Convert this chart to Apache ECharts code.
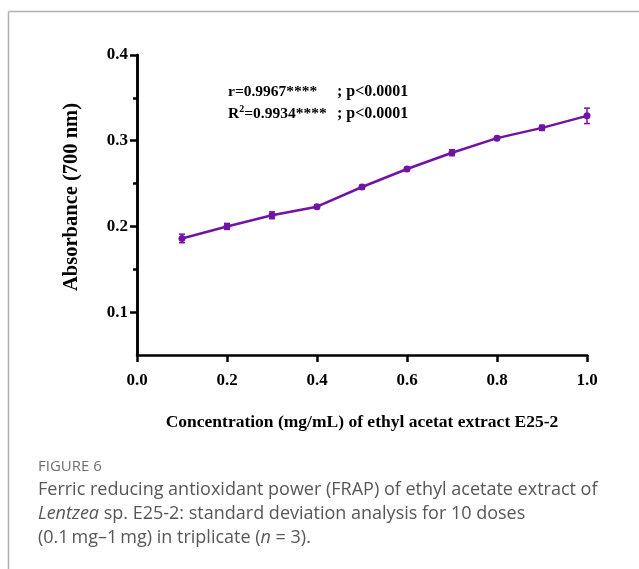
<!DOCTYPE html>
<html><head><meta charset="utf-8">
<script src="https://cdn.jsdelivr.net/npm/echarts@6/dist/echarts.min.js"></script>
<style>html,body{margin:0;padding:0;background:#fff}#c{width:639px;height:569px}</style>
</head><body><div id="c"></div>
<script>
const concentrations = [0.1,0.2,0.3,0.4,0.5,0.6,0.7,0.8,0.9,1.0];
const absorbance = [0.186,0.200,0.213,0.223,0.246,0.267,0.286,0.303,0.315,0.329];
const sdValues = [0.005,0.0035,0.004,0.002,0.002,0.002,0.0035,0.002,0.003,0.009];
const xTicks = [0,0.2,0.4,0.6,0.8,1.0];
const yMajor = [0.1,0.2,0.3,0.4];
const yMinor = [0.15,0.25,0.35];
const statLeft = ['r=0.9967****','R{sup|2}=0.9934****'];
const statRight = ['; p<0.0001','; p<0.0001'];

const purple = '#7313a3';
const serif = '"Liberation Serif","Times New Roman",serif';
const sans = '"Open Sans",sans-serif';

const chart = echarts.init(document.getElementById('c'), null, {renderer:'canvas'});
const lineData = concentrations.map((x,i)=>[x,absorbance[i]]);
const errData = concentrations.map((x,i)=>[x,absorbance[i]-sdValues[i],absorbance[i]+sdValues[i]]);
const statRich = {sup:{fontFamily:serif,fontWeight:'bold',fontSize:10,fill:'#000',padding:[0,0,9,0]}};

chart.setOption({
  animation:false,
  grid:{left:137,right:52,top:55,bottom:214,containLabel:false,outerBoundsMode:'none'},
  xAxis:{type:'value',min:0,max:1,interval:0.2,
    axisLine:{show:true,lineStyle:{color:'#000',width:2.5}},
    axisTick:{show:true,length:7,lineStyle:{color:'#000',width:2.5}},
    splitLine:{show:false},
    axisLabel:{color:'#000',fontFamily:serif,fontWeight:'bold',fontSize:17,margin:17,
      customValues:xTicks,formatter:v=>v.toFixed(1)},
    name:'Concentration (mg/mL) of ethyl acetat extract E25-2',
    nameLocation:'middle',nameGap:58,
    nameTextStyle:{color:'#000',fontFamily:serif,fontWeight:'bold',fontSize:17.5}
  },
  yAxis:[{type:'value',min:0.05,max:0.4,
    axisLine:{show:true,lineStyle:{color:'#000',width:2.5}},
    axisTick:{show:true,length:7,customValues:yMajor,lineStyle:{color:'#000',width:2.5}},
    splitLine:{show:false},
    axisLabel:{color:'#000',fontFamily:serif,fontWeight:'bold',fontSize:17,margin:9,
      customValues:yMajor,formatter:v=>v.toFixed(1)},
    name:'Absorbance (700 nm)',nameLocation:'middle',nameGap:55,
    nameTextStyle:{color:'#000',fontFamily:serif,fontWeight:'bold',fontSize:20.5,padding:[0,0,0,16]}
  },{type:'value',min:0.05,max:0.4,position:'left',
    axisLine:{show:true,lineStyle:{color:'#000',width:2.5}},
    axisTick:{show:true,length:4,customValues:yMinor,lineStyle:{color:'#000',width:2.5}},
    splitLine:{show:false},axisLabel:{show:false}
  }],
  series:[{type:'line',data:lineData,symbol:'circle',symbolSize:7,
    itemStyle:{color:purple},lineStyle:{color:purple,width:2.5},z:3},
  {type:'custom',data:errData,z:4,
    renderItem:function(params,api){
      const x=api.value(0);
      const lo=api.coord([x,api.value(1)]);
      const hi=api.coord([x,api.value(2)]);
      const w=3;
      return {type:'group',children:[
        {type:'line',shape:{x1:lo[0],y1:lo[1],x2:hi[0],y2:hi[1]},style:{stroke:purple,lineWidth:1.5}},
        {type:'line',shape:{x1:lo[0]-w,y1:lo[1],x2:lo[0]+w,y2:lo[1]},style:{stroke:purple,lineWidth:1.5}},
        {type:'line',shape:{x1:hi[0]-w,y1:hi[1],x2:hi[0]+w,y2:hi[1]},style:{stroke:purple,lineWidth:1.5}}
      ]};
    }}],
  graphic:[
    {type:'line',shape:{x1:8.5,y1:11.5,x2:639,y2:11.5},style:{stroke:'#b0b0b0',lineWidth:1.5}},
    {type:'line',shape:{x1:8.5,y1:11.5,x2:8.5,y2:569},style:{stroke:'#b0b0b0',lineWidth:1.5}},
    {type:'text',left:228,top:84,style:{text:statLeft[0],font:'bold 15.5px '+serif,fill:'#000'}},
    {type:'text',left:228,top:104,style:{text:statLeft[1],font:'bold 15.5px '+serif,fill:'#000',rich:statRich}},
    {type:'text',left:337,top:84,style:{text:statRight[0],font:'bold 16px '+serif,fill:'#000'}},
    {type:'text',left:337,top:106,style:{text:statRight[1],font:'bold 16px '+serif,fill:'#000'}},
    {type:'text',left:38,top:459,style:{text:'FIGURE 6',font:'15px '+sans,fill:'#707070'}},
    {type:'text',left:38,top:481,style:{text:'Ferric reducing antioxidant power (FRAP) of ethyl acetate extract of',font:'18px '+sans,fill:'#575757'}},
    {type:'text',left:38,top:505,style:{
      text:'{i|Lentzea} sp. E25-2: standard deviation analysis for 10 doses',
      font:'18px '+sans,fill:'#575757',
      rich:{i:{fontStyle:'italic',fontFamily:sans,fontSize:18,fill:'#575757'}}}},
    {type:'text',left:38,top:529,style:{
      text:'(0.1\u2009mg\u20131\u2009mg) in triplicate ({i|n} = 3).',
      font:'18px '+sans,fill:'#575757',
      rich:{i:{fontStyle:'italic',fontFamily:sans,fontSize:18,fill:'#575757'}}}}
  ]
});
</script></body></html>
